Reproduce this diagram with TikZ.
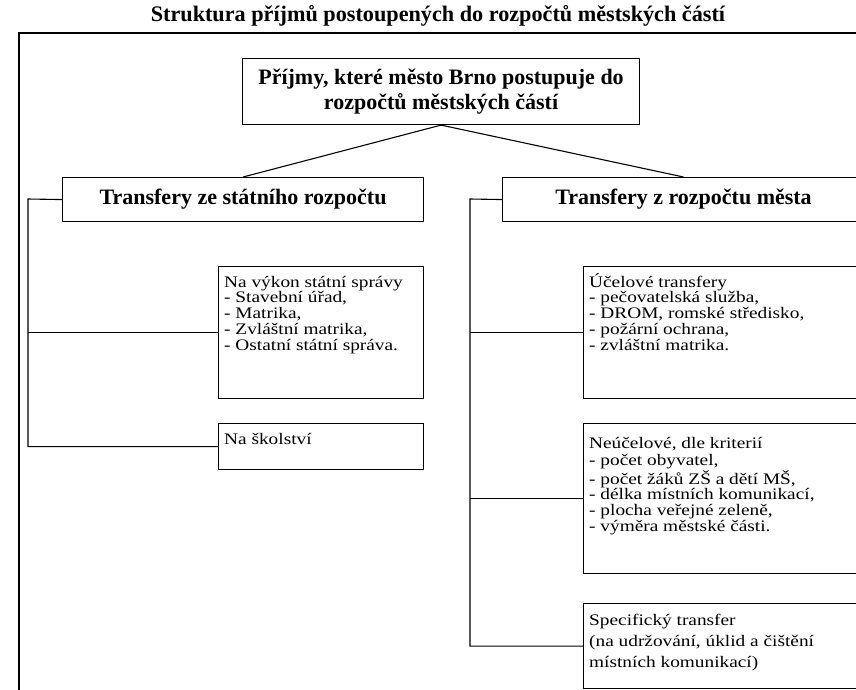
\documentclass[tikz,border=0pt]{standalone}
\usepackage{fontspec}
\setmainfont{Liberation Serif}[FakeStretch=1.2, BoldFeatures={FakeStretch=1.0}]
\begin{document}
\begin{tikzpicture}[x=1pt,y=-1pt,
  hbox/.style={draw, line width=1.1pt, rectangle, inner sep=0pt, anchor=north west, align=center,
    font=\fontsize{22}{25}\selectfont\bfseries},
  sbox/.style={draw, line width=1.1pt, rectangle, inner sep=0pt, anchor=north west},
  stxt/.style={anchor=north west, inner sep=0pt, align=left, font=\fontsize{16.1}{15.7}\selectfont},
  conn/.style={line width=1.1pt}]
\useasboundingbox (0,0) rectangle (856,689);
\clip (0,0) rectangle (856,689);
% title
\node[anchor=base, inner sep=0pt, font=\fontsize{22.2}{24}\selectfont\bfseries] (title) at (438,21)
  {Struktura příjmů postoupených do rozpočtů městských částí};
% frame
\draw[line width=1.1pt] (19,720) -- (19,33) -- (900,33);
% top box
\node[hbox, minimum width=397pt, minimum height=66pt] (top) at (242,58)
  {Příjmy, které město Brno postupuje do\\rozpočtů městských částí};
% level 1
\node[hbox, minimum width=361pt, minimum height=44pt] (L) at (62,177) {Transfery ze státního rozpočtu};
\node[hbox, minimum width=362pt, minimum height=44pt] (R) at (502,177) {Transfery z rozpočtu města};
\draw[conn] (top.south) -- (L.north);
\draw[conn] (top.south) -- (R.north);
% left sub boxes
\node[sbox, minimum width=205pt, minimum height=132pt] (vyk) at (218,266) {};
\node[stxt] (vyktxt) at ([xshift=6pt,yshift=-6pt]vyk.north west)
  {\rule{0pt}{15pt}Na výkon státní správy\\- Stavební úřad,\\- Matrika,\\- Zvláštní matrika,\\- Ostatní státní správa.};
\node[sbox, minimum width=205pt, minimum height=46pt] (sko) at (218,423) {};
\node[stxt] (skotxt) at ([xshift=6pt,yshift=-6pt]sko.north west) {\rule{0pt}{15pt}Na školství};
% right sub boxes
\node[sbox, minimum width=285pt, minimum height=132pt] (ucel) at (583,266) {};
\node[stxt] (uceltxt) at ([xshift=6pt,yshift=-6pt]ucel.north west)
  {\rule{0pt}{15pt}Účelové transfery\\- pečovatelská služba,\\- DROM, romské středisko,\\- požární ochrana,\\- zvláštní matrika.};
\node[sbox, minimum width=285pt, minimum height=150pt] (neu) at (583,423) {};
\node[stxt] (neutxt) at ([xshift=6pt,yshift=-10pt]neu.north west)
  {\rule{0pt}{15pt}Neúčelové, dle kriterií\\[2pt]- počet obyvatel,\\- počet žáků ZŠ a dětí MŠ,\\- délka místních komunikací,\\- plocha veřejné zeleně,\\- výměra městské části.};
\node[sbox, minimum width=285pt, minimum height=85pt] (spec) at (583,603) {};
\node[stxt, font=\fontsize{16.1}{21}\selectfont] (spectxt) at ([xshift=6pt,yshift=-7pt]spec.north west)
  {\rule{0pt}{15pt}Specifický transfer\\(na udržování, úklid a čištění\\místních komunikací)};
% connectors
\coordinate (bL) at (28,199);
\coordinate (bR) at (470,199);
\draw[conn] (L.west) -- (bL) |- (sko.west);
\draw[conn] (vyk.west) -- (vyk.west -| bL);
\draw[conn] (R.west) -- (bR) |- (spec.west);
\draw[conn] (ucel.west) -- (ucel.west -| bR);
\draw[conn] (neu.west) -- (neu.west -| bR);
\end{tikzpicture}
\end{document}
